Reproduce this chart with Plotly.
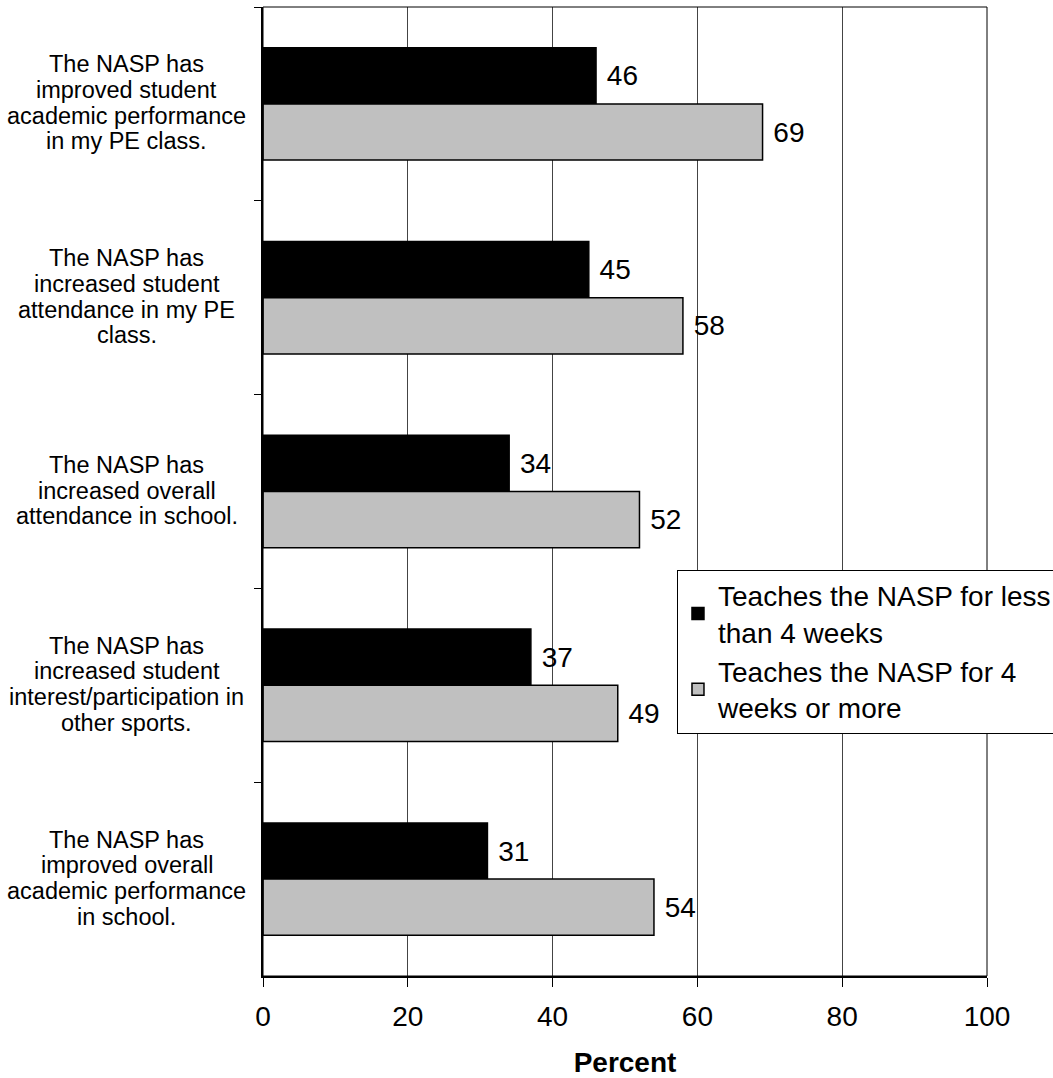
import plotly.graph_objects as go

categories = [
    "The NASP has<br>improved student<br>academic performance<br>in my PE class.",
    "The NASP has<br>increased student<br>attendance in my PE<br>class.",
    "The NASP has<br>increased overall<br>attendance in school.",
    "The NASP has<br>increased student<br>interest/participation in<br>other sports.",
    "The NASP has<br>improved overall<br>academic performance<br>in school.",
]
cat_ids = ["c1", "c2", "c3", "c4", "c5"]
less_than_4_weeks = [46, 45, 34, 37, 31]
four_weeks_or_more = [69, 58, 52, 49, 54]
series_names = ["Teaches the NASP for less<br>than 4 weeks",
                "Teaches the NASP for 4<br>weeks or more"]
x_ticks = [0, 20, 40, 60, 80, 100]

FONT = "Arial, Liberation Sans, sans-serif"

fig = go.Figure()
fig.add_trace(go.Bar(
    y=cat_ids, x=less_than_4_weeks, orientation="h", name=series_names[0],
    marker=dict(color="#000000", line=dict(color="#000000", width=1.5)),
    text=less_than_4_weeks, texttemplate=" %{x}", textposition="outside",
    textfont=dict(family=FONT, size=28, color="#000000"),
    cliponaxis=False, constraintext="none",
))
fig.add_trace(go.Bar(
    y=cat_ids, x=four_weeks_or_more, orientation="h", name=series_names[1],
    marker=dict(color="#C0C0C0", line=dict(color="#000000", width=1.5)),
    text=four_weeks_or_more, texttemplate=" %{x}", textposition="outside",
    textfont=dict(family=FONT, size=28, color="#000000"),
    cliponaxis=False, constraintext="none",
))

# Category labels: centered multi-line text, one annotation per line
line_h = 25.7
annotations = []
for cid, lab in zip(cat_ids, categories):
    lines = lab.split("<br>")
    n = len(lines)
    for i, ln in enumerate(lines):
        annotations.append(dict(
            x=-0.188, xref="paper", y=cid, yref="y",
            text=ln, showarrow=False, xanchor="center", yanchor="middle",
            yshift=-(i - (n - 1) / 2) * line_h + 1,
            font=dict(family=FONT, size=23.5, color="#000000"),
        ))

fig.update_layout(
    width=1053, height=1078,
    margin=dict(l=263, r=66, t=7, b=102, autoexpand=False),
    paper_bgcolor="white", plot_bgcolor="white",
    barmode="group", bargap=0.42, bargroupgap=0,
    font=dict(family=FONT, color="#000000"),
    annotations=annotations,
    showlegend=True,
    legend=dict(
        x=0.5718, y=0.4195, xanchor="left", yanchor="top",
        font=dict(family=FONT, size=28, color="#000000"),
        bordercolor="#000000", borderwidth=1, bgcolor="white",
        tracegroupgap=0, traceorder="normal",
    ),
    shapes=[dict(type="rect", xref="paper", yref="paper", x0=0, x1=1, y0=0, y1=1,
                 line=dict(color="#000000", width=1), layer="above")],
)
fig.update_xaxes(
    range=[0, 100], tickvals=x_ticks, ticks="outside", ticklen=9, tickcolor="#000000",
    showline=True, linecolor="#000000", linewidth=2,
    showgrid=True, gridcolor="#444444", gridwidth=1, zeroline=False,
    tickfont=dict(family=FONT, size=28, color="#000000"), ticklabelstandoff=5,
    title=dict(text="<b>Percent</b>", font=dict(family=FONT, size=28, color="#000000"), standoff=22),
)
fig.update_yaxes(
    type="category", categoryorder="array", categoryarray=cat_ids, autorange="reversed",
    showticklabels=False, ticks="outside", ticklen=7, tickcolor="#000000", tickson="boundaries",
    showline=True, linecolor="#000000", linewidth=2, showgrid=False, zeroline=False,
)

fig.write_html(
    "out.html",
    config={"displayModeBar": False},
    post_script="document.body.style.margin='0';document.body.style.overflow='hidden';",
)
